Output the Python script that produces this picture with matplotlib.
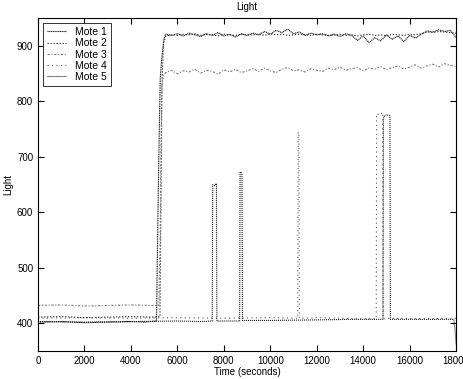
import numpy as np
import matplotlib
matplotlib.use("Agg")
import matplotlib.pyplot as plt

plt.rcParams['font.family'] = ['Liberation Sans', 'DejaVu Sans']

# Sample times (seconds) for the plateau after the lights come on
t_hi = list(range(5500, 18001, 250))

# Mote 1: dark trace, rises first, noisy plateau near 920
mote1_t = [0, 1000, 2000, 3000, 4000, 4600, 5100, 5150, 5200, 5260, 5330, 5420] + t_hi
mote1_v = [402, 403, 401, 402, 403, 402, 404, 560, 700, 840, 880, 912] + [
    921, 919, 922, 918, 923, 920, 917, 922, 919, 924, 918, 921, 916, 922, 919,
    923, 920, 926, 921, 928, 924, 930, 922, 925, 919, 923, 920, 922, 918,
    921, 917, 922, 919, 910, 918, 906, 915, 909, 920, 912, 918, 908,
    919, 914, 921, 927, 925, 929, 926, 928, 915]

# Mote 2: smoother plateau near 920
mote2_t = [0, 1000, 2000, 3000, 4000, 5000, 5250, 5290, 5330, 5400] + t_hi
mote2_v = [411, 412, 410, 411, 412, 411, 412, 600, 820, 905] + [
    918, 920, 919, 921, 920, 922, 919, 921, 920, 918, 921, 920, 919, 921, 920,
    920, 921, 919, 922, 920, 921, 919, 920, 921, 920, 919, 921, 920, 919,
    920, 921, 919, 920, 918, 920, 921, 919, 920, 918, 921, 920, 919,
    921, 920, 922, 925, 924, 926, 925, 924, 923]

# Mote 3: higher baseline, plateau near 855 drifting to 865
mote3_t = [0, 1000, 2000, 3000, 4000, 5000, 5200, 5260, 5300, 5340, 5400] + t_hi
mote3_v = [432, 433, 431, 432, 433, 432, 432, 560, 740, 830, 848] + [
    852, 856, 850, 855, 853, 858, 851, 856, 854, 849, 857, 853, 858, 852, 855,
    859, 854, 860, 855, 852, 858, 861, 855, 857, 853, 859, 856, 854, 860,
    857, 862, 856, 859, 861, 855, 860, 858, 863, 857, 861, 864, 858,
    862, 866, 860, 864, 867, 862, 868, 865, 863]

# Mote 4: stays dark, short bursts later in the run
mote4_t = [0, 2000, 4000, 6000, 8000, 10000, 11180, 11200, 11230, 11250, 12000,
           13000, 14000, 14560, 14580, 14700, 14840, 14860, 15500, 16500, 18000]
mote4_v = [409, 410, 409, 410, 409, 410, 409, 745, 740, 409, 410,
           409, 408, 408, 778, 775, 780, 408, 409, 408, 409]

# Mote 5: stays dark, bursts around 7600 and 8700, drops at the end
mote5_t = [0, 2000, 4000, 6000, 7000, 7500, 7520, 7600, 7680, 7700, 8680, 8700,
           8740, 8780, 8800, 10000, 12000, 13500, 14850, 14870, 15000, 15150,
           15170, 16500, 17900, 17950, 18000]
mote5_v = [403, 402, 403, 404, 403, 404, 650, 648, 652, 404, 404, 672,
           673, 668, 405, 405, 406, 407, 407, 772, 776, 774, 407, 407, 407, 390, 362]

labels = ['Mote 1', 'Mote 2', 'Mote 3', 'Mote 4', 'Mote 5']
series = [(mote1_t, mote1_v), (mote2_t, mote2_v), (mote3_t, mote3_v),
          (mote4_t, mote4_v), (mote5_t, mote5_v)]
styles = [(0, (1, 0.6)), (0, (1.2, 1.5)), (0, (2, 1.5, 1, 1.5)), (0, (1, 3)), (0, (1, 0.8))]
colors = ['#111111', '#333333', '#777777', '#555555', '#222222']

fig = plt.figure(figsize=(4.64, 3.79), dpi=100)
ax = fig.add_axes([0.082, 0.074, 0.901, 0.878])

for (t, v), lab, ls, c in zip(series, labels, styles, colors):
    ax.plot(t, v, linestyle=ls, color=c, linewidth=0.8, label=lab)

ax.set_xlim(0, 18000)
ax.set_ylim(350, 950)
ax.set_xticks([0, 2000, 4000, 6000, 8000, 10000, 12000, 14000, 16000, 18000])
ax.set_yticks([400, 500, 600, 700, 800, 900])
ax.tick_params(direction='in', top=True, right=True, labelsize=7, length=4, width=0.8)
for s in ax.spines.values():
    s.set_linewidth(0.8)

ax.set_title('Light', fontsize=7, pad=6)
ax.set_xlabel('Time (seconds)', fontsize=7, labelpad=1)
ax.set_ylabel('Light', fontsize=7, labelpad=3)

leg = ax.legend(loc='upper left', fontsize=7.5, frameon=True, fancybox=False,
                edgecolor='black', handlelength=1.8, handletextpad=0.9,
                borderpad=0.35, labelspacing=0.12, borderaxespad=0.5)
leg.get_frame().set_linewidth(0.7)

fig.savefig('out.png', dpi=100)
